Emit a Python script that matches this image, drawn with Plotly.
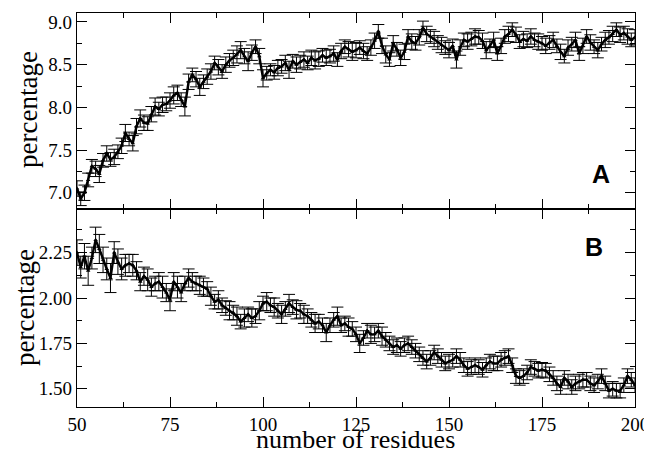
import plotly.graph_objects as go

residues = list(range(50, 201))

pct_a = [7.05, 6.93, 7.00, 7.15, 7.31, 7.28, 7.22, 7.38, 7.46, 7.39,
         7.42, 7.48, 7.55, 7.70, 7.63, 7.58, 7.78, 7.87, 7.82, 7.81,
         7.92, 8.01, 7.98, 8.03, 8.04, 8.08, 8.14, 8.17, 8.09, 8.01,
         8.30, 8.38, 8.33, 8.24, 8.30, 8.36, 8.42, 8.52, 8.47, 8.42,
         8.50, 8.55, 8.58, 8.62, 8.67, 8.60, 8.54, 8.64, 8.71, 8.60,
         8.34, 8.40, 8.44, 8.41, 8.46, 8.48, 8.52, 8.44, 8.54, 8.50,
         8.53, 8.56, 8.52, 8.58, 8.55, 8.57, 8.61, 8.58, 8.60, 8.63,
         8.56, 8.66, 8.71, 8.68, 8.65, 8.67, 8.70, 8.66, 8.63, 8.70,
         8.78, 8.89, 8.72, 8.62, 8.56, 8.75, 8.68, 8.58, 8.65, 8.83,
         8.77, 8.75, 8.82, 8.93, 8.86, 8.83, 8.80, 8.76, 8.73, 8.70,
         8.67, 8.72, 8.56, 8.70, 8.79, 8.77, 8.80, 8.83, 8.82, 8.78,
         8.67, 8.72, 8.79, 8.63, 8.72, 8.83, 8.86, 8.91, 8.85, 8.77,
         8.80, 8.78, 8.83, 8.79, 8.77, 8.75, 8.72, 8.76, 8.79, 8.72,
         8.65, 8.60, 8.70, 8.74, 8.79, 8.63, 8.72, 8.83, 8.76, 8.71,
         8.67, 8.74, 8.79, 8.82, 8.86, 8.91, 8.85, 8.87, 8.83, 8.79,
         8.82]

err_a = [0.09, 0.08, 0.09, 0.08, 0.08, 0.09, 0.10, 0.08, 0.09, 0.08,
         0.09, 0.08, 0.09, 0.10, 0.08, 0.09, 0.09, 0.10, 0.09, 0.08,
         0.09, 0.10, 0.08, 0.09, 0.08, 0.09, 0.10, 0.09, 0.08, 0.11,
         0.09, 0.08, 0.09, 0.10, 0.08, 0.09, 0.09, 0.08, 0.09, 0.08,
         0.09, 0.08, 0.09, 0.10, 0.10, 0.09, 0.11, 0.09, 0.08, 0.09,
         0.10, 0.08, 0.07, 0.08, 0.09, 0.08, 0.09, 0.10, 0.08, 0.09,
         0.08, 0.09, 0.08, 0.09, 0.10, 0.09, 0.08, 0.09, 0.08, 0.09,
         0.08, 0.09, 0.08, 0.09, 0.10, 0.09, 0.08, 0.09, 0.08, 0.09,
         0.09, 0.08, 0.09, 0.10, 0.08, 0.09, 0.08, 0.09, 0.09, 0.08,
         0.09, 0.08, 0.09, 0.08, 0.09, 0.08, 0.09, 0.08, 0.09, 0.08,
         0.09, 0.08, 0.10, 0.09, 0.08, 0.09, 0.08, 0.09, 0.08, 0.09,
         0.10, 0.08, 0.09, 0.08, 0.09, 0.08, 0.09, 0.08, 0.09, 0.08,
         0.09, 0.08, 0.09, 0.08, 0.09, 0.08, 0.09, 0.08, 0.09, 0.08,
         0.09, 0.08, 0.09, 0.08, 0.09, 0.08, 0.09, 0.08, 0.09, 0.08,
         0.09, 0.08, 0.09, 0.08, 0.09, 0.08, 0.09, 0.08, 0.09, 0.08,
         0.09]

pct_b = [2.25, 2.17, 2.23, 2.15, 2.22, 2.32, 2.27, 2.21, 2.16, 2.11,
         2.25, 2.20, 2.16, 2.18, 2.19, 2.18, 2.15, 2.09, 2.12, 2.10,
         2.06, 2.08, 2.09, 2.06, 2.03, 1.99, 2.09, 2.06, 2.03, 2.08,
         2.11, 2.09, 2.08, 2.07, 2.06, 2.05, 2.01, 1.98, 1.99, 1.96,
         1.945, 1.93, 1.92, 1.90, 1.87, 1.89, 1.91, 1.89, 1.90, 1.93,
         1.97, 1.98, 1.96, 1.95, 1.93, 1.91, 1.94, 1.97, 1.95, 1.935,
         1.93, 1.91, 1.90, 1.88, 1.86, 1.87, 1.85, 1.81, 1.85, 1.88,
         1.90, 1.85, 1.86, 1.84, 1.83, 1.80, 1.75, 1.78, 1.82, 1.80,
         1.80, 1.82, 1.79, 1.77, 1.75, 1.73, 1.74, 1.72, 1.74, 1.75,
         1.73, 1.71, 1.69, 1.67, 1.65, 1.67, 1.70, 1.68, 1.66, 1.64,
         1.65, 1.66, 1.68, 1.66, 1.63, 1.61, 1.62, 1.63, 1.62, 1.605,
         1.63, 1.65, 1.64, 1.64, 1.66, 1.67, 1.68, 1.63, 1.57, 1.56,
         1.57, 1.59, 1.62, 1.61, 1.60, 1.605, 1.60, 1.58, 1.56, 1.53,
         1.51, 1.56, 1.54, 1.51, 1.53, 1.54, 1.55, 1.55, 1.53, 1.52,
         1.54, 1.57, 1.53, 1.49, 1.50, 1.49, 1.49, 1.52, 1.57, 1.55,
         1.52]

err_b = [0.07, 0.06, 0.07, 0.08, 0.06, 0.07, 0.08, 0.07, 0.06, 0.08,
         0.06, 0.07, 0.06, 0.06, 0.05, 0.06, 0.05, 0.05, 0.05, 0.06,
         0.05, 0.04, 0.05, 0.06, 0.05, 0.06, 0.05, 0.06, 0.05, 0.04,
         0.05, 0.05, 0.04, 0.05, 0.05, 0.04, 0.05, 0.04, 0.05, 0.04,
         0.04, 0.05, 0.04, 0.05, 0.04, 0.05, 0.04, 0.05, 0.04, 0.05,
         0.04, 0.05, 0.04, 0.05, 0.04, 0.05, 0.04, 0.05, 0.04, 0.05,
         0.04, 0.05, 0.04, 0.04, 0.05, 0.04, 0.04, 0.05, 0.04, 0.04,
         0.05, 0.04, 0.04, 0.05, 0.04, 0.04, 0.05, 0.04, 0.04, 0.05,
         0.04, 0.04, 0.05, 0.04, 0.04, 0.04, 0.04, 0.04, 0.04, 0.04,
         0.04, 0.04, 0.04, 0.04, 0.04, 0.04, 0.04, 0.04, 0.04, 0.04,
         0.04, 0.04, 0.04, 0.04, 0.04, 0.04, 0.04, 0.04, 0.04, 0.04,
         0.04, 0.04, 0.04, 0.04, 0.04, 0.04, 0.04, 0.04, 0.04, 0.04,
         0.04, 0.04, 0.04, 0.04, 0.04, 0.04, 0.04, 0.04, 0.04, 0.04,
         0.04, 0.04, 0.04, 0.04, 0.04, 0.04, 0.04, 0.04, 0.04, 0.04,
         0.04, 0.04, 0.04, 0.04, 0.04, 0.04, 0.04, 0.04, 0.04, 0.04,
         0.04]

panel_labels = ["A", "B"]
x_title = "number of residues"
y_title = "percentage"

SERIF = "Liberation Serif"
SANS = "Liberation Sans"

fig = go.Figure()

common = dict(mode="lines+markers",
              line=dict(color="black", width=2.4),
              marker=dict(symbol="triangle-up", size=4, color="black"),
              showlegend=False)

fig.add_trace(go.Scatter(x=residues, y=pct_a, xaxis="x2", yaxis="y2",
                         error_y=dict(type="data", array=err_a, color="black",
                                      thickness=1, width=6),
                         **common))
fig.add_trace(go.Scatter(x=residues, y=pct_b, xaxis="x", yaxis="y",
                         error_y=dict(type="data", array=err_b, color="black",
                                      thickness=1, width=6),
                         **common))

axis_style = dict(showline=True, linecolor="black", linewidth=1.3, mirror="ticks",
                  ticks="inside", ticklen=10, tickwidth=1.2, tickcolor="black",
                  showgrid=False, zeroline=False, tickmode="linear",
                  automargin=False,
                  tickfont=dict(family=SERIF, size=19, color="black"))

minor_style = dict(ticks="inside", ticklen=5, tickcolor="black", tickwidth=1,
                   showgrid=False)

# plot area in page pixels: left 77, right 635, top 13, bottom 407
# (page body has an 8 px margin, so figure coordinates are shifted by 8)
split = (407 - 209) / 394
PW, PH = 558, 394

fig.update_layout(
    width=644, height=447,
    margin=dict(l=69, r=17, t=5, b=48, autoexpand=False),
    paper_bgcolor="white", plot_bgcolor="white",
    xaxis=dict(domain=[0, 1], range=[50, 200], tick0=50, dtick=25, anchor="y",
               minor=dict(dtick=12.5, tick0=50, **minor_style),
               **axis_style),
    yaxis=dict(domain=[0, split], range=[1.40, 2.49], tick0=1.5, dtick=0.25,
               tickformat=".2f", anchor="x",
               minor=dict(dtick=0.125, tick0=1.5, **minor_style),
               **axis_style),
    xaxis2=dict(domain=[0, 1], range=[50, 200], tick0=50, dtick=25, anchor="y2",
                showticklabels=False, matches="x",
                minor=dict(dtick=12.5, tick0=50, **minor_style),
                **axis_style),
    yaxis2=dict(domain=[split, 1], range=[6.81, 9.105], tick0=7.0, dtick=0.5,
                tickformat=".1f", anchor="x2",
                minor=dict(dtick=0.25, tick0=7.0, **minor_style),
                **axis_style),
    annotations=[
        dict(text="<b>%s</b>" % panel_labels[0], x=(612 - 77) / PW,
             y=(407 - 174) / PH, xref="paper", yref="paper", showarrow=False,
             font=dict(family=SANS, size=25, color="black")),
        dict(text="<b>%s</b>" % panel_labels[1], x=(605 - 77) / PW,
             y=(407 - 247) / PH, xref="paper", yref="paper", showarrow=False,
             font=dict(family=SANS, size=25, color="black")),
        dict(text=x_title, x=(355 - 77) / PW, y=-(455 - 407) / PH, xref="paper",
             yref="paper", xanchor="center", yanchor="bottom", showarrow=False,
             borderpad=0, font=dict(family=SERIF, size=26, color="black")),
        dict(text=y_title, x=-(77 - 28) / PW, y=(407 - 110) / PH, xref="paper",
             yref="paper", xanchor="center", yanchor="middle", textangle=-90,
             showarrow=False, borderpad=0,
             font=dict(family=SERIF, size=27, color="black")),
        dict(text=y_title, x=-(77 - 25) / PW, y=(407 - 308) / PH, xref="paper",
             yref="paper", xanchor="center", yanchor="middle", textangle=-90,
             showarrow=False, borderpad=0,
             font=dict(family=SERIF, size=27, color="black")),
    ],
)

fig.write_html("out.html")
